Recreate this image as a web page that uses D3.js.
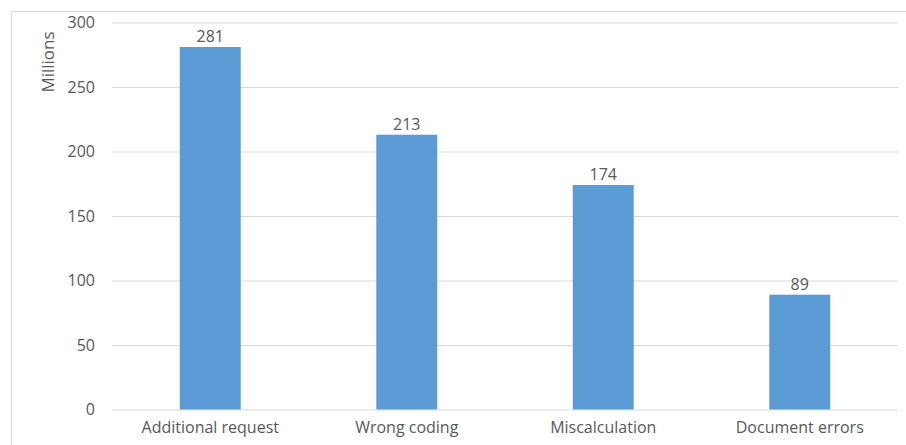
<!DOCTYPE html>
<html><head><meta charset="utf-8">
<script src="https://cdn.jsdelivr.net/npm/d3@7"></script>
<style>body{margin:0;background:#fff}svg{display:block}text{font-family:"Open Sans",Lato,sans-serif;fill:#595959}</style>
</head><body>
<svg id="c" width="906" height="445"></svg>
<script>
const categories = ["Additional request", "Wrong coding", "Miscalculation", "Document errors"];
const values = [281, 213, 174, 89];
const yTicks = [0, 50, 100, 150, 200, 250, 300];
const yTitle = "Millions";

const svg = d3.select("#c");
const W = 906, H = 445;
const FS = 16;
const m = {left:112, right:8, top:22.5, bottom:35.5};
svg.append("line").attr("x1",11.5).attr("x2",W).attr("y1",11.5).attr("y2",11.5).attr("stroke","#d9d9d9");
svg.append("line").attr("x1",11.5).attr("x2",11.5).attr("y1",11.5).attr("y2",H).attr("stroke","#d9d9d9");

const x = d3.scaleBand().domain(categories).range([m.left, W-m.right]).padding(0);
const y = d3.scaleLinear().domain([0,300]).range([H-m.bottom, m.top]);

const yAxis = d3.axisLeft(y).tickValues(yTicks).tickSize(-(W-m.right-m.left)).tickPadding(17);
const gy = svg.append("g").attr("transform",`translate(${m.left},0)`).call(yAxis);
gy.attr("font-size",FS).attr("font-family",null);
gy.select(".domain").remove();
gy.selectAll(".tick line").attr("stroke","#d9d9d9");
gy.selectAll(".tick text").attr("fill","#595959");

const bw = x.bandwidth()*0.31;
svg.append("g").selectAll("rect").data(values).join("rect")
  .attr("x",(d,i)=>x(categories[i])+x.bandwidth()/2-bw/2)
  .attr("width",bw)
  .attr("y",d=>y(d)).attr("height",d=>y(0)-y(d))
  .attr("fill","#5b9bd5");

svg.append("g").selectAll("text").data(values).join("text")
  .attr("x",(d,i)=>x(categories[i])+x.bandwidth()/2)
  .attr("y",d=>y(d)-5)
  .attr("text-anchor","middle").attr("font-size",FS).text(d=>d);

const xAxis = d3.axisBottom(x).tickSize(0).tickPadding(12);
const gx = svg.append("g").attr("transform",`translate(0,${y(0)})`).call(xAxis);
gx.attr("font-size",FS).attr("font-family",null);
gx.select(".domain").remove();
gx.selectAll(".tick text").attr("fill","#595959");

svg.append("text").attr("transform",`translate(54,62) rotate(-90)`).attr("text-anchor","middle")
  .attr("font-size",17).text(yTitle);
</script>
</body></html>
